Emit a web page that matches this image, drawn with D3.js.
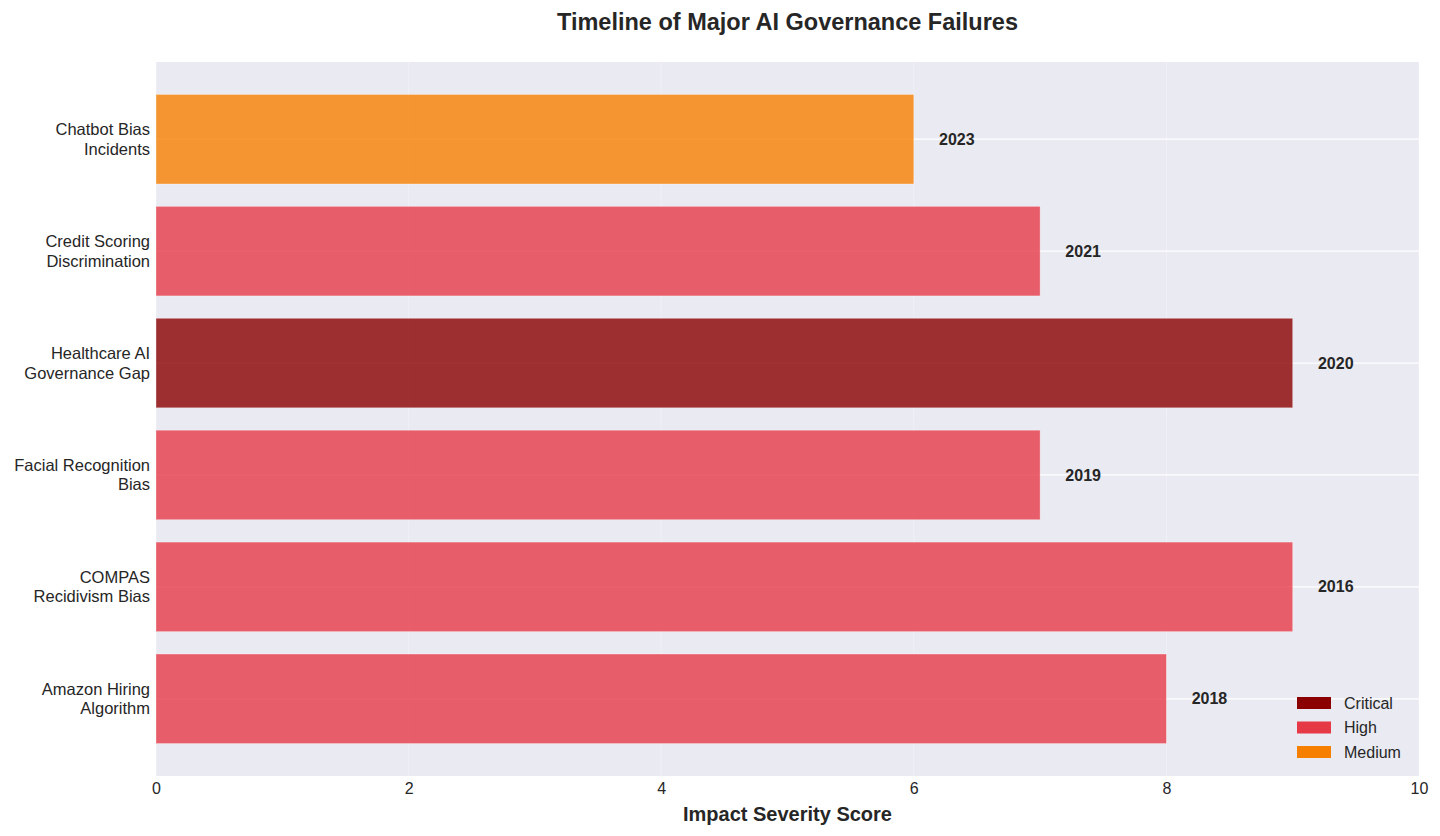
<!DOCTYPE html>
<html><head><meta charset="utf-8">
<script src="https://cdn.jsdelivr.net/npm/d3@7"></script>
<style>body{margin:0;background:#fff;} text{font-family:"Liberation Sans",Arial,sans-serif;}</style>
</head><body><svg id="c" width="1440" height="836"></svg>
<script>
const incidents = ["Chatbot Bias\nIncidents","Credit Scoring\nDiscrimination","Healthcare AI\nGovernance Gap","Facial Recognition\nBias","COMPAS\nRecidivism Bias","Amazon Hiring\nAlgorithm"];
const severity = [6,7,9,7,9,8];
const years = ["2023","2021","2020","2019","2016","2018"];
const levels = ["Medium","High","Critical","High","High","High"];
const legendLevels = ["Critical","High","Medium"];
const levelColors = ["#8B0000","#E63946","#F77F00"];
const xTicks = [0,2,4,6,8,10];

const svg = d3.select("#c");
const L=156,R=1419,T=62,B=776;
const x = d3.scaleLinear().domain([0,10]).range([L,R]);
const n = incidents.length;
const y = d3.scaleLinear().domain([-0.69, n-1+0.69]).range([T,B]);
const color = d3.scaleOrdinal().domain(legendLevels).range(levelColors);

svg.append("rect").attr("x",L).attr("y",T).attr("width",R-L).attr("height",B-T).attr("fill","#eaeaf2");
svg.append("g").selectAll("line").data(xTicks).join("line")
  .attr("x1",d=>x(d)).attr("x2",d=>x(d)).attr("y1",T).attr("y2",B)
  .attr("stroke","#fff").attr("stroke-opacity",0.3).attr("stroke-width",1);
svg.append("g").selectAll("line").data(d3.range(n)).join("line")
  .attr("x1",L).attr("x2",R).attr("y1",i=>y(i)).attr("y2",i=>y(i))
  .attr("stroke","#fff").attr("stroke-width",1.2);

const bh = y(0.4)-y(-0.4);
svg.append("g").selectAll("rect").data(d3.range(n)).join("rect")
  .attr("x",x(0)).attr("y",i=>y(i)-bh/2).attr("width",i=>x(severity[i])-x(0)).attr("height",bh)
  .attr("fill",i=>color(levels[i])).attr("fill-opacity",0.8)
  .attr("stroke","#fff").attr("stroke-opacity",0.4).attr("stroke-width",0.8);

svg.append("g").selectAll("text").data(d3.range(n)).join("text")
  .attr("x",i=>x(severity[i]+0.2)).attr("y",i=>y(i)).attr("dy","0.35em")
  .attr("font-size",16).attr("font-weight","bold").attr("fill","#262626")
  .text(i=>years[i]);

const yl = svg.append("g").selectAll("text").data(d3.range(n)).join("text")
  .attr("text-anchor","end").attr("font-size",16.5).attr("fill","#262626");
yl.each(function(i){
  const lines = incidents[i].split("\n");
  const t = d3.select(this);
  lines.forEach((s,k)=>{
    t.append("tspan").attr("x",L-6).attr("y",y(i)+(k-(lines.length-1)/2)*19.5).attr("dy","0.35em").text(s);
  });
});

const xa = svg.append("g").attr("transform",`translate(0,${B})`)
  .call(d3.axisBottom(x).tickValues(xTicks).tickSize(0).tickPadding(7).tickFormat(d3.format("d")));
xa.select(".domain").remove();
xa.selectAll("text").attr("font-size",16).attr("fill","#262626").style("font-family","'Liberation Sans',Arial,sans-serif");

svg.append("text").attr("x",(L+R)/2).attr("y",821).attr("text-anchor","middle")
  .attr("font-size",20).attr("font-weight","bold").attr("fill","#262626").text("Impact Severity Score");
svg.append("text").attr("x",(L+R)/2).attr("y",30).attr("text-anchor","middle")
  .attr("font-size",23.5).attr("font-weight","bold").attr("fill","#262626").text("Timeline of Major AI Governance Failures");

const lg = svg.append("g").selectAll("g").data(legendLevels).join("g")
  .attr("transform",(d,k)=>`translate(1297,${697+k*24.5})`);
lg.append("rect").attr("width",34).attr("height",12).attr("fill",d=>color(d));
lg.append("text").attr("x",47).attr("y",6).attr("dy","0.35em").attr("font-size",16).attr("fill","#262626").text(d=>d);
</script></body></html>
